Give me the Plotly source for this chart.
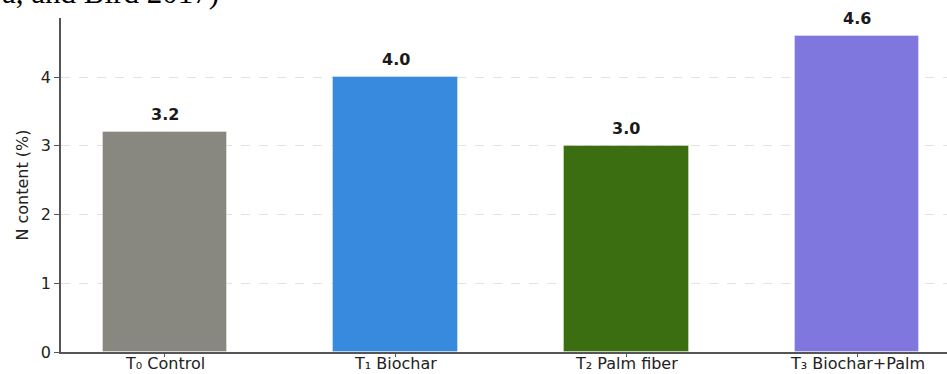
import plotly.graph_objects as go

# Treatments and measured nitrogen content
categories = ["T₀ Control", "T₁ Biochar", "T₂ Palm fiber", "T₃ Biochar+Palm"]
n_content = [3.2, 4.0, 3.0, 4.6]
bar_colors = ["#888780", "#378ADD", "#3B6D11", "#7F77DD"]
y_ticks = [0, 1, 2, 3, 4]

W, H = 947, 374
M_L, M_R, M_T, M_B = 61, 0, 18, 22
plot_w = W - M_L - M_R
plot_h = H - M_T - M_B

positions = list(range(len(categories)))

fig = go.Figure()
fig.add_trace(go.Bar(
    x=positions,
    y=n_content,
    width=0.54,
    marker=dict(color=bar_colors, line=dict(color="rgba(255,255,255,0.35)", width=1)),
    hoverinfo="skip",
))

# value labels above each bar
for xi, v in zip(positions, n_content):
    fig.add_annotation(
        x=xi, y=v, xref="x", yref="y",
        text=f"<b>{v:.1f}</b>",
        showarrow=False, yanchor="bottom", yshift=6,
        font=dict(family="DejaVu Sans", size=16, color="#1a1a1a"),
    )

# category labels under the axis, kept tight to the bottom edge
for xi, name in zip(positions, categories):
    fig.add_annotation(
        x=xi, y=-M_B / plot_h, xref="x", yref="paper",
        text=name, showarrow=False, yanchor="bottom", borderpad=0,
        font=dict(family="DejaVu Sans", size=16, color="#222222"),
    )

# running text from the surrounding page, partly cut off at the top
fig.add_annotation(
    x=-M_L / plot_w, y=1 + (M_T - 12) / plot_h, xref="paper", yref="paper",
    text="a, and Bird 2017)", showarrow=False,
    xanchor="left", yanchor="bottom",
    font=dict(family="Liberation Serif", size=31, color="#000000"),
)

fig.update_layout(
    width=W, height=H,
    margin=dict(l=M_L, r=M_R, t=M_T, b=M_B, pad=0, autoexpand=False),
    plot_bgcolor="white", paper_bgcolor="white",
    showlegend=False,
    bargap=0,
    font=dict(family="DejaVu Sans", size=16, color="#222222"),
)
fig.update_xaxes(
    range=[-0.45, 3.39], automargin=False,
    tickmode="array", tickvals=positions, showticklabels=False,
    showline=True, linecolor="#555555", linewidth=1.5,
    ticks="outside", ticklen=3, tickcolor="#555555", tickwidth=1.2,
    showgrid=False, zeroline=False,
)
fig.update_yaxes(
    range=[0, 4.86], automargin=False,
    tickmode="array", tickvals=y_ticks,
    showline=True, linecolor="#555555", linewidth=1.5,
    ticks="outside", ticklen=5, tickcolor="#555555", tickwidth=1.2,
    showgrid=True, gridcolor="#e2e2e2", griddash="dash", gridwidth=1,
    zeroline=False,
    title=dict(text="N content (%)", standoff=8,
               font=dict(family="DejaVu Sans", size=16, color="#222222")),
    tickfont=dict(family="DejaVu Sans", size=16, color="#222222"),
)

fig.write_html("out.html")
